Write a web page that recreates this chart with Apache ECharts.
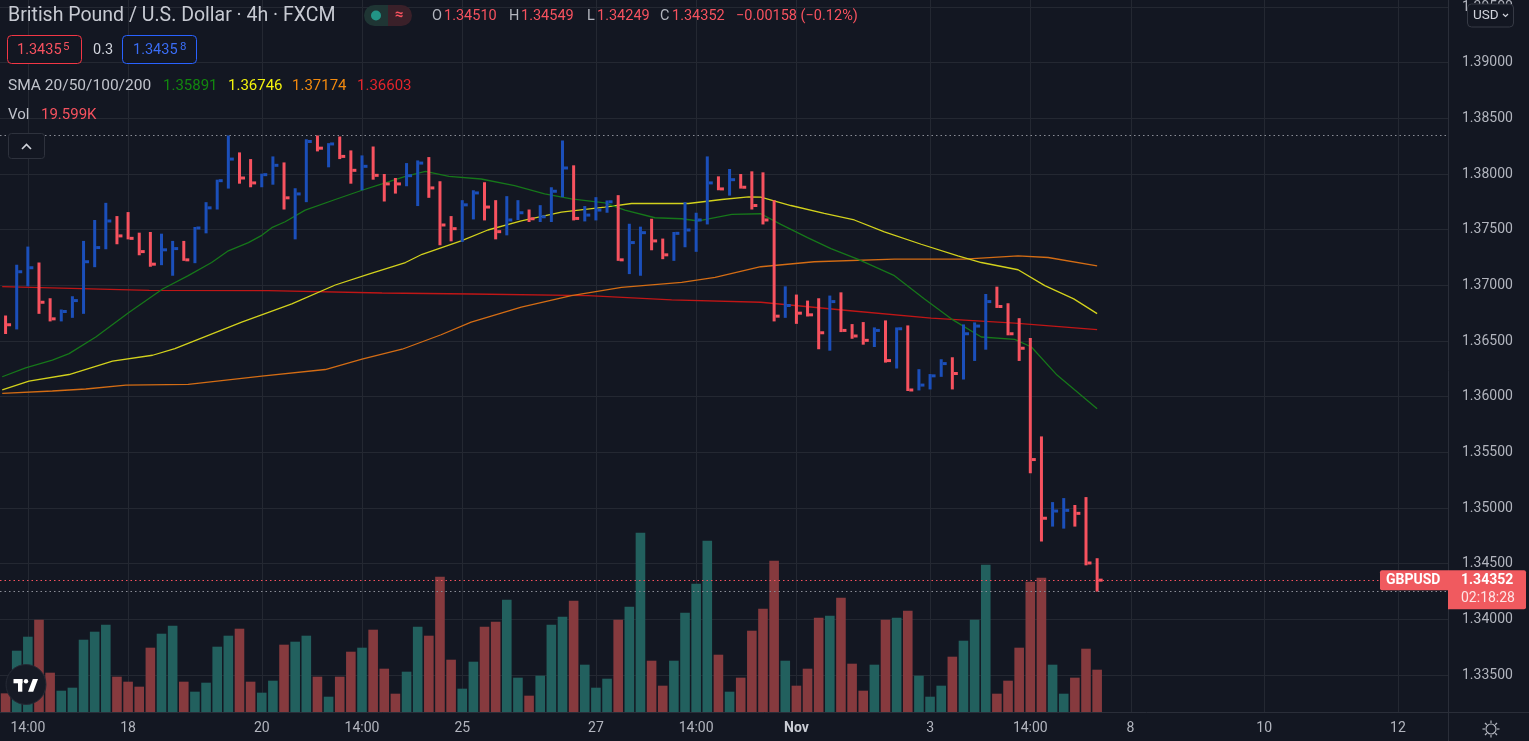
<!DOCTYPE html>
<html><head><meta charset="utf-8">
<script src="https://cdn.jsdelivr.net/npm/echarts/dist/echarts.min.js"></script>
<style>html,body{margin:0;padding:0;background:#131722;overflow:hidden}#c{width:1529px;height:741px;}</style>
</head><body><div id="c"></div>
<script>
// ---------- DATA ----------
const sessionDays = ['Oct 15','Oct 18','Oct 19','Oct 20','Oct 21','Oct 22','Oct 25','Oct 26','Oct 27','Oct 28','Oct 29','Nov 1','Nov 2','Nov 3','Nov 4','Nov 5','Nov 8','Nov 9','Nov 10','Nov 11','Nov 12','Nov 15'];
const barHours = ['02:00','06:00','10:00','14:00','18:00','22:00'];
const tickIndex = [2,11,23,32,41,53,62,71,83,92,101,113,125];
const tickText = ['14:00','18','20','14:00','25','27','14:00','Nov','3','14:00','8','10','12'];

const highs = [1.36729,1.37185,1.37348,1.37205,1.36884,1.36783,1.36902,1.37399,1.37587,1.37741,
1.37622,1.37658,1.37473,1.37479,1.37464,1.37399,1.37399,1.37524,1.37747,1.37949,
1.38346,1.38194,1.38134,1.38003,1.38158,1.38104,1.37872,1.38312,1.38346,1.38277,
1.38337,1.38212,1.38167,1.38247,1.38000,1.37964,1.38098,1.38122,1.38152,1.37935,
1.37622,1.37765,1.37854,1.37926,1.37765,1.37801,1.37765,1.37681,1.37720,1.37881,
1.38301,1.38078,1.37712,1.37792,1.37762,1.37810,1.37553,1.37527,1.37598,1.37420,
1.37479,1.37747,1.37652,1.38158,1.37979,1.38045,1.38000,1.38024,1.38015,1.37765,
1.36991,1.36917,1.36863,1.36884,1.36908,1.36937,1.36652,1.36670,1.36622,1.36685,
1.36622,1.36640,1.36247,1.36203,1.36336,1.36354,1.36649,1.36667,1.36922,1.36988,
1.36839,1.36705,1.36527,1.35643,1.35053,1.35089,1.35027,1.35098,1.34549];
const lows = [1.36563,1.36604,1.36991,1.36744,1.36676,1.36676,1.36708,1.36744,1.37163,1.37324,
1.37369,1.37413,1.37270,1.37167,1.37181,1.37086,1.37220,1.37199,1.37467,1.37681,
1.37869,1.37913,1.37881,1.37881,1.37904,1.37681,1.37413,1.37747,1.38203,1.38060,
1.38134,1.37913,1.37854,1.37949,1.37753,1.37824,1.37890,1.37712,1.37786,1.37360,
1.37395,1.37390,1.37592,1.37583,1.37413,1.37449,1.37587,1.37569,1.37569,1.37569,
1.37792,1.37583,1.37574,1.37583,1.37652,1.37220,1.37101,1.37086,1.37315,1.37235,
1.37220,1.37342,1.37301,1.37547,1.37854,1.37806,1.37869,1.37681,1.37547,1.36676,
1.36708,1.36654,1.36720,1.36426,1.36413,1.36580,1.36520,1.36467,1.36446,1.36306,
1.36253,1.36051,1.36056,1.36065,1.36178,1.36065,1.36154,1.36321,1.36422,1.36797,
1.36551,1.36321,1.35312,1.34699,1.34833,1.34815,1.34833,1.34485,1.34249];
const closes = [1.36646,1.37122,1.37158,1.36848,1.36699,1.36765,1.36863,1.37212,1.37339,1.37578,
1.37444,1.37422,1.37303,1.37190,1.37319,1.37330,1.37229,1.37515,1.37696,1.37940,
1.38134,1.37964,1.37920,1.37994,1.38078,1.37786,1.37821,1.38292,1.38232,1.38270,
1.38158,1.38033,1.38069,1.37988,1.37911,1.37911,1.37985,1.38098,1.37875,1.37542,
1.37509,1.37723,1.37830,1.37703,1.37482,1.37587,1.37652,1.37598,1.37616,1.37845,
1.38054,1.37601,1.37631,1.37676,1.37750,1.37229,1.37384,1.37473,1.37399,1.37274,
1.37467,1.37497,1.37587,1.37920,1.37866,1.37949,1.37881,1.37717,1.37587,1.36723,
1.36819,1.36750,1.36735,1.36574,1.36854,1.36595,1.36545,1.36506,1.36595,1.36324,
1.36610,1.36060,1.36104,1.36187,1.36297,1.36208,1.36565,1.36634,1.36854,1.36810,
1.36565,1.36435,1.35435,1.34908,1.34973,1.34979,1.34952,1.34506,1.34352];
// 1 = up bar (blue), 0 = down bar (red)
const ups = [0,1,1,0,0,1,1,1,1,1, 0,0,0,0,1,1,0,1,1,1, 1,0,0,1,1,0,1,1,0,1,
0,0,1,0,0,0,1,1,0,0, 0,1,1,0,0,1,1,0,1,1, 1,0,1,1,1,0,1,1,0,0,
1,1,1,1,0,1,0,0,0,0, 1,0,0,0,1,0,0,0,1,0, 1,0,1,1,1,0,1,1,1,0,
0,0,0,0,1,1,0,0,0];
// volume in thousands
const volumes = [8.65,28.42,34.90,42.78,18.22,9.88,11.27,33.51,37.22,40.46,
16.37,14.05,11.74,29.81,36.29,40.00,14.05,9.42,13.59,30.27,
35.37,38.61,14.05,8.96,14.52,31.20,32.59,35.37,16.37,7.10,
16.37,27.95,29.81,38.15,20.08,8.49,18.69,39.54,35.37,62.70,
24.25,10.81,23.32,39.54,41.85,52.05,15.91,7.57,16.83,40.46,
44.17,51.58,21.93,11.27,15.44,42.78,48.80,83.09,23.78,12.20,
23.78,46.02,59.46,79.38,26.56,9.42,15.91,37.68,47.88,70.12,
23.78,12.20,20.08,43.71,44.63,52.97,22.39,9.88,21.93,42.78,
43.71,46.95,16.83,7.10,12.20,25.64,33.05,42.78,68.26,8.49,
14.52,29.81,60.39,62.24,21.93,8.49,15.91,29.34,19.61];

// moving averages: [bar position, value]
const sma20 = [[-0.3,1.36179],[1.8,1.36259],[4.2,1.36328],[5.7,1.36387],[8.1,1.36536],[11.1,1.36759],[14.1,1.36967],[16.4,1.37087],[18.5,1.37205],[20.0,1.37310],[21.8,1.37384],[23.0,1.37449],[23.9,1.37518],[25.1,1.37571],[26.9,1.37676],[29.6,1.37771],[32.0,1.37854],[33.8,1.37911],[35.9,1.37979],[37.7,1.38024],[39.8,1.37979],[42.7,1.37955],[45.7,1.37896],[48.4,1.37821],[50.8,1.37777],[53.8,1.37741],[55.6,1.37676],[58.3,1.37607],[60.7,1.37598],[62.2,1.37578],[65.2,1.37637],[67.8,1.37643],[69.6,1.37547],[72.0,1.37429],[74.1,1.37330],[76.5,1.37235],[79.8,1.37087],[82.5,1.36878],[84.9,1.36699],[87.6,1.36536],[90.6,1.36515],[92.1,1.36446],[94.4,1.36194],[98.0,1.35891]];
const sma50 = [[-0.3,1.36060],[2.1,1.36140],[5.7,1.36199],[9.6,1.36319],[13.2,1.36372],[15.2,1.36431],[18.2,1.36551],[21.2,1.36670],[25.7,1.36833],[29.6,1.37003],[32.6,1.37101],[35.9,1.37205],[37.4,1.37279],[40.9,1.37399],[43.3,1.37497],[46.3,1.37578],[49.9,1.37658],[53.8,1.37703],[56.2,1.37735],[61.3,1.37735],[64.3,1.37771],[66.7,1.37795],[67.8,1.37792],[70.5,1.37717],[73.5,1.37646],[76.2,1.37587],[78.9,1.37480],[82.2,1.37369],[85.5,1.37265],[87.6,1.37205],[90.9,1.37140],[93.3,1.36997],[95.9,1.36878],[98.0,1.36746]];
const sma100 = [[-0.3,1.36029],[4.2,1.36051],[7.2,1.36069],[10.8,1.36104],[16.4,1.36110],[23.0,1.36185],[28.7,1.36244],[32.0,1.36337],[35.6,1.36426],[39.1,1.36556],[41.8,1.36670],[46.3,1.36804],[50.8,1.36908],[55.3,1.36982],[60.7,1.37027],[63.7,1.37071],[67.8,1.37167],[72.6,1.37212],[79.8,1.37235],[86.1,1.37235],[90.9,1.37265],[93.6,1.37250],[98.0,1.37174]];
const sma200 = [[-0.3,1.36988],[12.9,1.36955],[23.6,1.36953],[33.8,1.36931],[41.8,1.36922],[52.3,1.36908],[59.8,1.36869],[67.8,1.36848],[75.6,1.36774],[83.1,1.36705],[90.6,1.36661],[98.0,1.36603]];

const priceTicks = {min: 1.335, max: 1.395, step: 0.005};
const slotCount = 130;
const volMax = 330;

// ---------- STYLE ----------
const BG = '#131722', GRID = '#242832', TXT = '#b2b5be';
const RED = '#f7525f', BLUE = '#1b4fba';
const VOL_UP = '#22605e', VOL_DN = '#863a3e';
const FONT = 'Roboto, "Noto Sans", sans-serif';

const categories = [];
sessionDays.forEach(d => barHours.forEach(h => categories.push(d + ' ' + h)));
const cats = categories.slice(1, 1 + slotCount);

const hlcData = highs.map((h, i) => [i, h, lows[i], closes[i], ups[i]]);
const volData = volumes.map((v, i) => ({value: [i, v], itemStyle: {color: ups[i] ? VOL_UP : VOL_DN}}));
const maxHigh = Math.max(...highs), minLow = Math.min(...lows), lastClose = closes[closes.length - 1];

const chart = echarts.init(document.getElementById('c'), null, {renderer: 'canvas'});

const smaStyle = (c) => ({type: 'line', xAxisIndex: 2, yAxisIndex: 0, z: 3, showSymbol: false, symbol: 'none', silent: true, lineStyle: {color: c, width: 1.3}});

const option = {
  backgroundColor: BG,
  animation: false,
  grid: [
    {left: -2.3, right: 81, top: 3, bottom: 66},
    {left: -2.3, right: 81, top: 0, bottom: 29}
  ],
  xAxis: [
    {type: 'category', gridIndex: 0, data: cats, boundaryGap: true, show: false},
    {type: 'category', gridIndex: 1, data: cats, boundaryGap: true,
      axisLine: {show: false}, axisTick: {show: false}, splitLine: {show: false},
      axisLabel: {
        interval: (i) => tickIndex.includes(i),
        formatter: (v, i) => { const t = tickText[tickIndex.indexOf(i)] || ''; return t === 'Nov' ? '{m|Nov}' : t; },
        color: TXT, fontSize: 14, margin: 9, fontFamily: FONT,
        rich: {m: {fontWeight: 'bold', color: '#c9ccd4', fontSize: 14, fontFamily: FONT}}
      }},
    {type: 'value', gridIndex: 0, min: -0.5, max: slotCount - 0.5, show: false, splitLine: {show: false}}
  ],
  yAxis: [
    {type: 'value', gridIndex: 0, position: 'right', min: priceTicks.min, max: priceTicks.max, interval: priceTicks.step,
      axisLine: {show: false}, axisTick: {show: false},
      axisLabel: {formatter: v => v.toFixed(5), color: TXT, fontSize: 14, margin: 14, fontFamily: FONT},
      splitLine: {lineStyle: {color: GRID, width: 1}}},
    {type: 'value', gridIndex: 1, min: 0, max: volMax, show: false, splitLine: {show: false}}
  ],
  series: [
    {type: 'custom', xAxisIndex: 1, yAxisIndex: 1, z: 1, silent: true, data: tickIndex.map(i => [i, 0]),
      renderItem: (params, api) => {
        const p = api.coord([api.value(0), 0]);
        const cs = params.coordSys;
        const x = Math.round(p[0]) + 0.5;
        return {type: 'line', shape: {x1: x, y1: cs.y, x2: x, y2: cs.y + cs.height}, style: {stroke: GRID, lineWidth: 1}};
      }},
    {type: 'bar', xAxisIndex: 1, yAxisIndex: 1, z: 2, barWidth: 9.6, data: volData, silent: true},
    Object.assign(smaStyle('#c01616'), {data: sma200}),
    Object.assign(smaStyle('#d36c14'), {data: sma100}),
    Object.assign(smaStyle('#d2d11c'), {data: sma50}),
    Object.assign(smaStyle('#16771a'), {data: sma20}),
    {type: 'line', xAxisIndex: 0, yAxisIndex: 0, z: 3, data: [], silent: true,
      markLine: {silent: true, symbol: 'none', precision: 5, label: {show: false}, animation: false,
        data: [
          {yAxis: maxHigh, lineStyle: {color: '#8a8d96', type: [1.5, 3], width: 1}},
          {yAxis: minLow, lineStyle: {color: '#8a8d96', type: [1.5, 3], width: 1}},
          {yAxis: lastClose, lineStyle: {color: RED, type: [1.5, 3], width: 1}}
        ]}},
    {type: 'custom', xAxisIndex: 0, yAxisIndex: 0, z: 4, silent: true, data: hlcData,
      encode: {x: 0, y: [1, 2, 3]},
      renderItem: (params, api) => {
        const i = api.value(0);
        const hi = api.coord([i, api.value(1)]);
        const lo = api.coord([i, api.value(2)]);
        const cl = api.coord([i, api.value(3)]);
        const col = api.value(4) ? BLUE : RED;
        const x = hi[0];
        return {type: 'group', children: [
          {type: 'rect', shape: {x: x - 1.5, y: hi[1], width: 3, height: Math.max(1, lo[1] - hi[1])}, style: {fill: col}},
          {type: 'rect', shape: {x: x + 1.5, y: cl[1] - 1.5, width: 4, height: 3}, style: {fill: col}}
        ]};
      }}
  ]
};
chart.setOption(option);

// ---------- overlays (text, buttons, price tags) ----------
const yLast = chart.convertToPixel({yAxisIndex: 0}, lastClose);
const T = (text, x, y, fill, size, extra) => Object.assign({type: 'text', z: 100, style: Object.assign({text, x, y, fill, fontSize: size, fontFamily: FONT, verticalAlign: 'middle'}, extra || {})});
const g = [
  {type: 'line', z: 90, shape: {x1: 1448.5, y1: 0, x2: 1448.5, y2: 741}, style: {stroke: '#2a2e39', lineWidth: 1}},
  {type: 'line', z: 90, shape: {x1: 0, y1: 712.5, x2: 1529, y2: 712.5}, style: {stroke: '#2a2e39', lineWidth: 1}},
  T('British Pound / U.S. Dollar · 4h · FXCM', 8, 16, '#c7cad2', 19.5),
  {type: 'rect', z: 100, shape: {x: 364, y: 5, width: 24, height: 21, r: [10.5, 0, 0, 10.5]}, style: {fill: '#1f3534'}},
  {type: 'rect', z: 100, shape: {x: 388, y: 5, width: 24, height: 21, r: [0, 10.5, 10.5, 0]}, style: {fill: '#3a2029'}},
  {type: 'circle', z: 101, shape: {cx: 376, cy: 15.5, r: 5}, style: {fill: '#229486'}},
  T('≈', 399, 15.5, RED, 15, {align: 'center', fontWeight: 'bold'}),
  T('O', 432, 16, TXT, 14.5), T('1.34510', 444, 16, RED, 14.5),
  T('H', 509, 16, TXT, 14.5), T('1.34549', 521, 16, RED, 14.5),
  T('L', 587, 16, TXT, 14.5), T('1.34249', 597, 16, RED, 14.5),
  T('C', 660, 16, TXT, 14.5), T('1.34352', 672, 16, RED, 14.5),
  T('−0.00158 (−0.12%)', 736, 16, RED, 14.5),
  {type: 'rect', z: 100, shape: {x: 7.5, y: 35.5, width: 74, height: 28, r: 4}, style: {fill: BG, stroke: '#f23645', lineWidth: 1}},
  T('1.3435', 17, 50.5, RED, 14.5), T('5', 63, 47.5, RED, 11.5),
  T('0.3', 93, 50.5, '#d1d4dc', 14.5),
  {type: 'rect', z: 100, shape: {x: 122.5, y: 35.5, width: 74, height: 28, r: 4}, style: {fill: BG, stroke: '#2962ff', lineWidth: 1}},
  T('1.3435', 133, 50.5, '#3a6df5', 14.5), T('8', 180, 47.5, '#3a6df5', 11.5),
  T('SMA 20/50/100/200', 8, 86, '#c0c3cb', 15.5),
  T('1.35891', 163, 86, '#12870f', 15),
  T('1.36746', 228, 86, '#f2f20d', 15),
  T('1.37174', 292, 86, '#f2890e', 15),
  T('1.36603', 357, 86, '#e2242b', 15),
  T('Vol', 8, 115.5, '#c0c3cb', 15),
  T('19.599K', 41, 115.5, RED, 15),
  {type: 'rect', z: 100, shape: {x: 8.5, y: 133.5, width: 36, height: 25, r: 3}, style: {fill: BG, stroke: '#2e323d', lineWidth: 1}},
  {type: 'polyline', z: 101, shape: {points: [[22, 149], [26.5, 144.5], [31, 149]]}, style: {stroke: '#d1d4dc', lineWidth: 1.6, fill: null}},
  {type: 'rect', z: 100, shape: {x: 1467.5, y: 4, width: 46, height: 23, r: 4}, style: {fill: BG, stroke: '#363a45', lineWidth: 1}},
  T('USD', 1473, 15.5, '#d1d4dc', 13.5),
  {type: 'polyline', z: 101, shape: {points: [[1503, 14], [1505.5, 16.5], [1508, 14]]}, style: {stroke: '#d1d4dc', lineWidth: 1.2, fill: null}},
  {type: 'rect', z: 100, shape: {x: 1380, y: yLast - 10, width: 68, height: 20, r: [2, 0, 0, 2]}, style: {fill: '#f05a5f'}},
  T('GBPUSD', 1386, yLast, '#ffffff', 14, {fontWeight: 'bold'}),
  {type: 'rect', z: 100, shape: {x: 1448, y: yLast - 10, width: 78, height: 39, r: [0, 2, 2, 0]}, style: {fill: '#f05a5f'}},
  T(lastClose.toFixed(5), 1461, yLast, '#ffffff', 14, {fontWeight: 'bold'}),
  T('02:18:28', 1461, yLast + 18.5, '#fde4e5', 14),
  {type: 'circle', z: 100, shape: {cx: 26, cy: 684.5, r: 20}, style: {fill: '#161a25', stroke: '#262a35', lineWidth: 1}},
  {type: 'rect', z: 101, shape: {x: 13.5, y: 679, width: 9, height: 4.3}, style: {fill: '#ffffff'}},
  {type: 'rect', z: 101, shape: {x: 18, y: 679, width: 4.3, height: 12.7}, style: {fill: '#ffffff'}},
  {type: 'circle', z: 101, shape: {cx: 26, cy: 681.2, r: 2.2}, style: {fill: '#ffffff'}},
  {type: 'polygon', z: 101, shape: {points: [[28, 691.7], [32.8, 679], [38, 679], [33.2, 691.7]]}, style: {fill: '#ffffff'}},
  {type: 'circle', z: 100, shape: {cx: 1491, cy: 729, r: 5}, style: {fill: null, stroke: TXT, lineWidth: 1.2}}
];
for (let k = 0; k < 8; k++) {
  const a = k * Math.PI / 4;
  g.push({type: 'line', z: 100, shape: {x1: 1491 + Math.cos(a) * 6, y1: 729 + Math.sin(a) * 6, x2: 1491 + Math.cos(a) * 8.5, y2: 729 + Math.sin(a) * 8.5}, style: {stroke: TXT, lineWidth: 1.2}});
}
chart.setOption({graphic: g});
</script></body></html>
